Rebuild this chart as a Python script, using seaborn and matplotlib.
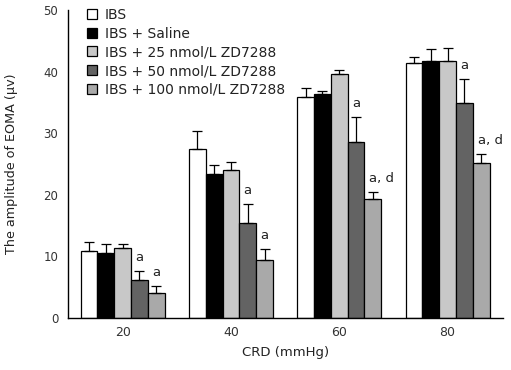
import matplotlib
matplotlib.use("Agg")
import matplotlib.pyplot as plt
import seaborn as sns
import pandas as pd
import numpy as np

# ---- data ----
pressures = ["20", "40", "60", "80"]
groups = ["IBS", "IBS + Saline", "IBS + 25 nmol/L ZD7288",
          "IBS + 50 nmol/L ZD7288", "IBS + 100 nmol/L ZD7288"]
ibs        = [10.9, 27.4, 35.8, 41.4]
saline     = [10.5, 23.4, 36.3, 41.8]
zd25       = [11.3, 24.0, 39.6, 41.8]
zd50       = [6.1, 15.4, 28.5, 34.9]
zd100      = [4.0, 9.4, 19.4, 25.1]
ibs_err    = [1.4, 3.0, 1.6, 1.0]
saline_err = [1.5, 1.4, 0.6, 1.9]
zd25_err   = [0.7, 1.3, 0.6, 2.1]
zd50_err   = [1.6, 3.1, 4.2, 3.9]
zd100_err  = [1.2, 1.8, 1.1, 1.5]
ann50      = ["a", "a", "a", "a"]
ann100     = ["a", "a", "a, d", "a, d"]

values = [ibs, saline, zd25, zd50, zd100]
errors = [ibs_err, saline_err, zd25_err, zd50_err, zd100_err]
annots = [None, None, None, ann50, ann100]
colors = ["#ffffff", "#000000", "#c8c8c8", "#636363", "#a9a9a9"]

rows = []
for g, vals in zip(groups, values):
    for p, v in zip(pressures, vals):
        rows.append({"CRD": p, "group": g, "value": v})
df = pd.DataFrame(rows)

sns.set_style("white")
plt.rcParams["font.family"] = ["DejaVu Sans"]

fig = plt.figure(figsize=(5.11, 3.70), dpi=100)
ax = fig.add_axes([0.133, 0.1405, 0.851, 0.8325])

sns.barplot(data=df, x="CRD", y="value", hue="group", order=pressures,
            hue_order=groups, palette=colors, errorbar=None, width=0.775,
            edgecolor="black", linewidth=0.9, saturation=1, ax=ax)

for cont, errs, ann in zip(ax.containers, errors, annots):
    for i, bar in enumerate(cont):
        x = bar.get_x() + bar.get_width() / 2
        h = bar.get_height()
        ax.errorbar([x], [h], yerr=[[0], [errs[i]]], fmt="none",
                    ecolor="black", elinewidth=0.9, capsize=3.4,
                    capthick=0.9, zorder=3)
        if ann is not None:
            t = ann[i]
            if "," in t:
                ax.text(x - 0.032, h + errs[i] + 2.2, t, ha="left",
                        va="center", fontsize=9.5, color="#222222")
            else:
                ax.text(x, h + errs[i] + 2.2, t, ha="center",
                        va="center", fontsize=9.5, color="#222222")

ax.set_ylim(0, 50)
ax.set_xlim(-0.505, 3.51)
ax.set_yticks([0, 10, 20, 30, 40, 50])
sns.despine(ax=ax)
for s in ["left", "bottom"]:
    ax.spines[s].set_linewidth(1.0)
    ax.spines[s].set_color("black")
ax.tick_params(axis="y", direction="in", length=4, width=1.0, pad=7,
               labelsize=8.5, colors="black", labelcolor="#333333")
ax.tick_params(axis="x", length=0, pad=6, labelsize=9, labelcolor="#333333")

ax.set_xlabel("CRD (mmHg)", fontsize=9.5, color="#222222", labelpad=5)
ax.set_ylabel("The amplitude of EOMA (μv)", fontsize=9.2, color="#222222")
ax.yaxis.set_label_coords(-0.115, 0.5)

handles, labels = ax.get_legend_handles_labels()
ax.legend(handles, labels, loc="upper left", bbox_to_anchor=(0.032, 1.025),
          frameon=False, fontsize=10, handlelength=0.72, handleheight=0.72,
          handletextpad=0.55, labelspacing=0.34, borderaxespad=0.0,
          labelcolor="#222222")

fig.savefig("out.png", dpi=100)
